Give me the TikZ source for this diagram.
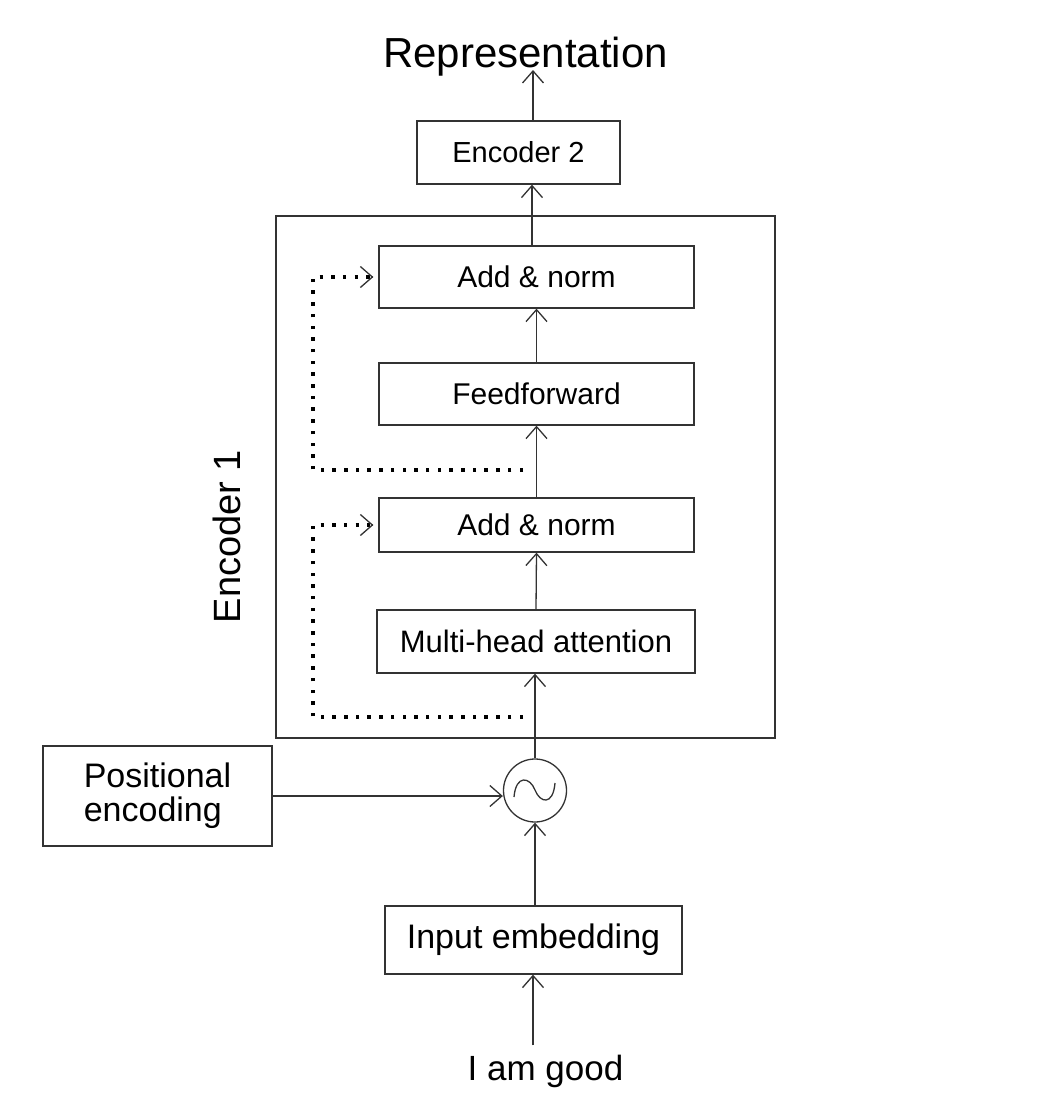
\documentclass[tikz,border=0pt]{standalone}
\usepackage{fontspec}
\setmainfont{Liberation Sans}
\usetikzlibrary{arrows.meta}
\begin{document}
\begin{tikzpicture}[x=1pt,y=-1pt,
  lc/.style={draw=black!80, line width=1.3pt},
  box/.style={lc, fill=white, inner sep=0pt, font=\fontsize{30}{36}\selectfont},
  bigbox/.style={lc, fill=white, inner sep=0pt, font=\fontsize{34}{34}\selectfont},
  lbl/.style={inner sep=0pt},
  arr/.style={lc, -{Straight Barb[length=12pt,width=21pt]}},
  dotl/.style={draw=black, line width=3.5pt, dash pattern=on 3.5pt off 8.2pt}
]
\useasboundingbox (0,0) rectangle (1038,1100);

% outer encoder 1 box
\node[lc, minimum width=499, minimum height=522, inner sep=0pt] (enc1) at (525.5,477) {};

% boxes
\node[box, minimum width=203, minimum height=63, font=\fontsize{29}{34}\selectfont] (enc2) at (518.5,152.5) {Encoder 2};
\node[box, minimum width=315, minimum height=62] (addtop) at (536.5,277) {Add \& norm};
\node[box, minimum width=315, minimum height=62] (ff) at (536.5,394) {Feedforward};
\node[box, minimum width=315, minimum height=54] (addbot) at (536.5,525) {Add \& norm};
\node[box, minimum width=318, minimum height=63, font=\fontsize{31}{36}\selectfont] (mha) at (536,641.5) {Multi-head attention};
\node[lc, circle, minimum size=63, inner sep=0pt] (mix) at (535,790.5) {};
\node[bigbox, minimum width=229, minimum height=100, align=left] (pos) at (157.5,796) {Positional\\encoding};
\node[bigbox, minimum width=297, minimum height=68] (inp) at (533.5,940) {Input embedding};

% labels
\node[lbl, anchor=base, font=\fontsize{42}{48}\selectfont] (rep) at (525.5,67) {Representation};
\node[lbl, anchor=base, font=\fontsize{35}{40}\selectfont] (iam) at (545.5,1080) {I am good};
\node[lbl, rotate=90, anchor=base, font=\fontsize{38}{44}\selectfont] (lab) at (240,536.5) {Encoder 1};

% tilde symbol inside the circle
\draw[lc] (514,797) .. controls (516,774) and (530,777) .. (535,790)
          .. controls (540,803) and (553,806) .. (555,783);

% helper coordinates
\coordinate (c533) at (533,0);
\coordinate (c532) at (532,0);
\coordinate (cL) at (313,0);
\coordinate (d1s) at (523,470);
\coordinate (d2s) at (523,717);
\coordinate (t1) at ([xshift=-5pt]addtop.west);
\coordinate (t2) at ([xshift=-5pt]addbot.west);

% connectors
\draw[arr, shorten <=9pt] (iam.north -| c533) -- (inp.south -| c533);
\draw[arr] (inp.north -| mix.south) -- (mix.south);
\draw[arr] (pos.east) -- (pos.east -| mix.west);
\draw[arr] (mix.north) -- (mha.south -| mix.north);
\draw[arr] (mha.north) -- (addbot.south);
\draw[arr] (addbot.north) -- (ff.south);
\draw[arr] (ff.north) -- (addtop.south);
\draw[arr] (addtop.north -| c532) -- (enc2.south -| c532);
\draw[arr, shorten >=3pt] (enc2.north -| c533) -- (rep.base -| c533);

% residual (dotted) connections
\draw[dotl] (d1s) -- (d1s -| cL) |- ([xshift=-3pt]t1);
\draw[arr] ([xshift=-1pt]t1) -- (t1);
\draw[dotl] (d2s) -- (d2s -| cL) |- ([xshift=-3pt]t2);
\draw[arr] ([xshift=-1pt]t2) -- (t2);
\end{tikzpicture}
\end{document}
